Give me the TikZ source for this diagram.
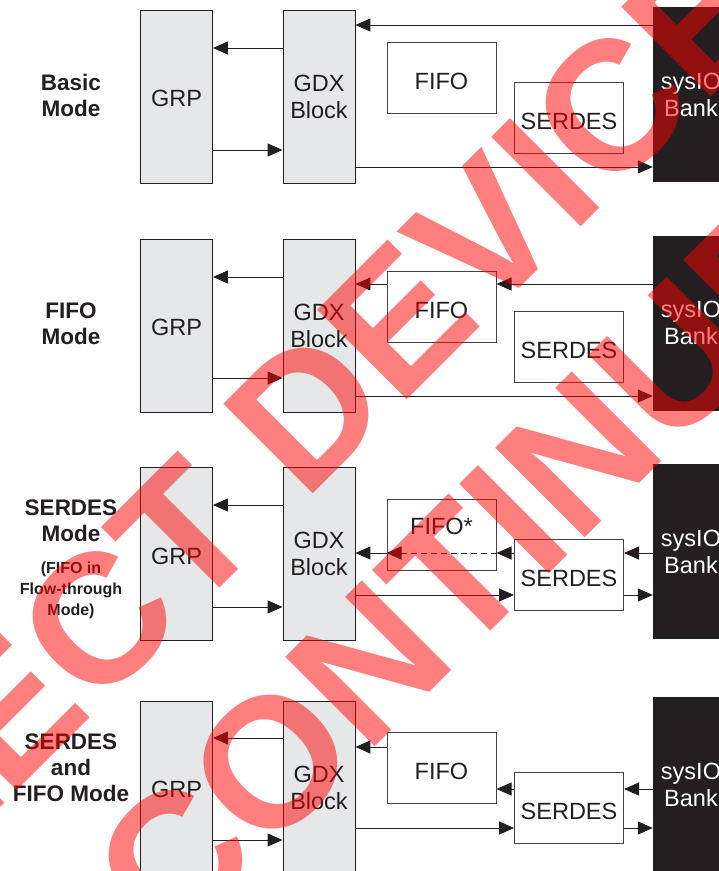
\documentclass[tikz,border=0pt]{standalone}
\usepackage{fontspec}
\setmainfont{Liberation Sans}
\usetikzlibrary{arrows.meta}
\definecolor{ink}{HTML}{231F20}
\definecolor{panel}{HTML}{E6E7E8}

\begin{document}
\begin{tikzpicture}[x=1pt, y=-1pt,
    every node/.style={font=\fontsize{23.5}{27}\selectfont, align=center, text=ink, inner sep=0pt},
    blk/.style={rectangle, draw=ink, line width=0.9pt, fill=panel, minimum width=72pt, minimum height=173pt},
    low/.style={text height=20.8pt, text depth=0pt},
    buf/.style={rectangle, draw=ink!85, line width=1pt, fill=white, minimum width=109pt, minimum height=71pt, text height=23.8pt, text depth=0pt},
    io/.style={rectangle, fill=ink, text=white, minimum width=76pt, minimum height=175pt},
    mode/.style={font=\bfseries\fontsize{22.5}{26}\selectfont},
    note/.style={font=\bfseries\fontsize{16}{21}\selectfont},
    arr/.style={-{Triangle[length=15pt,width=13pt]}, line width=1pt, draw=ink},
    wm/.style={font=\bfseries\fontsize{184}{184}\selectfont, text=red, text opacity=0.5, rotate=45}
]
\fill[white] (0,0) rectangle (719,871);
\useasboundingbox (0,0) rectangle (719,871);

% Basic mode (row 1)
\node[mode] (modeA) at (71,95) {Basic\\Mode};
\node[blk, low] (grpA) at (176.5,96.5) {GRP};
\node[blk] (gdxA) at (319,96.5) {GDX\\Block};
\node[buf] (fifoA) at (441.5,77.5) {FIFO};
\node[buf] (serA) at (569,117.5) {SERDES};
\node[io] (ioA) at (691,94.5) {sysIO\\Bank};
\draw[arr] (ioA.west |- 0,25) -- (gdxA.east |- 0,25);
\draw[arr] (gdxA.west |- 0,48) -- (grpA.east |- 0,48);
\draw[arr] (grpA.east |- 0,150) -- (gdxA.west |- 0,150);
\draw[arr] (gdxA.east |- 0,167) -- (ioA.west |- 0,167);

% FIFO mode (row 2)
\node[mode] (modeB) at (71,323.5) {FIFO\\Mode};
\node[blk, low] (grpB) at (176.5,325.5) {GRP};
\node[blk] (gdxB) at (319,325.5) {GDX\\Block};
\node[buf] (fifoB) at (441.5,306.5) {FIFO};
\node[buf] (serB) at (569,346.5) {SERDES};
\node[io] (ioB) at (691,323) {sysIO\\Bank};
\draw[arr] (ioB.west |- 0,284) -- (fifoB.east |- 0,284);
\draw[arr] (fifoB.west |- 0,284) -- (gdxB.east |- 0,284);
\draw[arr] (gdxB.west |- 0,277) -- (grpB.east |- 0,277);
\draw[arr] (grpB.east |- 0,378) -- (gdxB.west |- 0,378);
\draw[arr] (gdxB.east |- 0,396) -- (ioB.west |- 0,396);

% SERDES mode, FIFO in flow-through (row 3)
\node[mode] (modeC) at (71,520.5) {SERDES\\Mode};
\node[note] (noteC) at (71,590) {(FIFO in\\Flow-through\\Mode)};
\node[blk, low] (grpC) at (176.5,554) {GRP};
\node[blk] (gdxC) at (319,554) {GDX\\Block};
\node[buf] (fifoC) at (441.5,534.5) {};
\node[yshift=8pt] (fifoCtxt) at (fifoC.center) {FIFO*};
\node[buf] (serC) at (569,574.5) {SERDES};
\node[io] (ioC) at (691,551.5) {sysIO\\Bank};
\draw[arr] (ioC.west |- 0,553) -- (serC.east |- 0,553);
\draw[arr] (serC.west |- 0,553) -- (fifoC.east |- 0,553);
\draw[arr, dash pattern=on 6pt off 4pt] (fifoC.east |- 0,553) -- (fifoC.west |- 0,553);
\draw[arr] (fifoC.west |- 0,553) -- (gdxC.east |- 0,553);
\draw[arr] (gdxC.east |- 0,595) -- (serC.west |- 0,595);
\draw[arr] (serC.east |- 0,595) -- (ioC.west |- 0,595);
\draw[arr] (gdxC.west |- 0,505) -- (grpC.east |- 0,505);
\draw[arr] (grpC.east |- 0,607) -- (gdxC.west |- 0,607);

% SERDES and FIFO mode (row 4)
\node[mode] (modeD) at (71,768) {SERDES\\and\\FIFO Mode};
\node[blk, low] (grpD) at (176.5,787.5) {GRP};
\node[blk] (gdxD) at (319,787.5) {GDX\\Block};
\node[buf] (fifoD) at (441.5,768) {FIFO};
\node[buf] (serD) at (569,808) {SERDES};
\node[io] (ioD) at (691,784.5) {sysIO\\Bank};
\draw[arr] (ioD.west |- 0,789) -- (serD.east |- 0,789);
\draw[arr] (serD.west |- 0,789) -- (fifoD.east |- 0,789);
\draw[arr] (fifoD.west |- 0,747) -- (gdxD.east |- 0,747);
\draw[arr] (gdxD.east |- 0,828) -- (serD.west |- 0,828);
\draw[arr] (serD.east |- 0,828) -- (ioD.west |- 0,828);
\draw[arr] (gdxD.west |- 0,738) -- (grpD.east |- 0,738);
\draw[arr] (grpD.east |- 0,840) -- (gdxD.west |- 0,840);

% stamp over the drawing
\node[wm] (wmTop) at (271,447) {SELECT DEVICES};
\node[wm] (wmBot) at (405,628) {DISCONTINUED};
\end{tikzpicture}
\end{document}
